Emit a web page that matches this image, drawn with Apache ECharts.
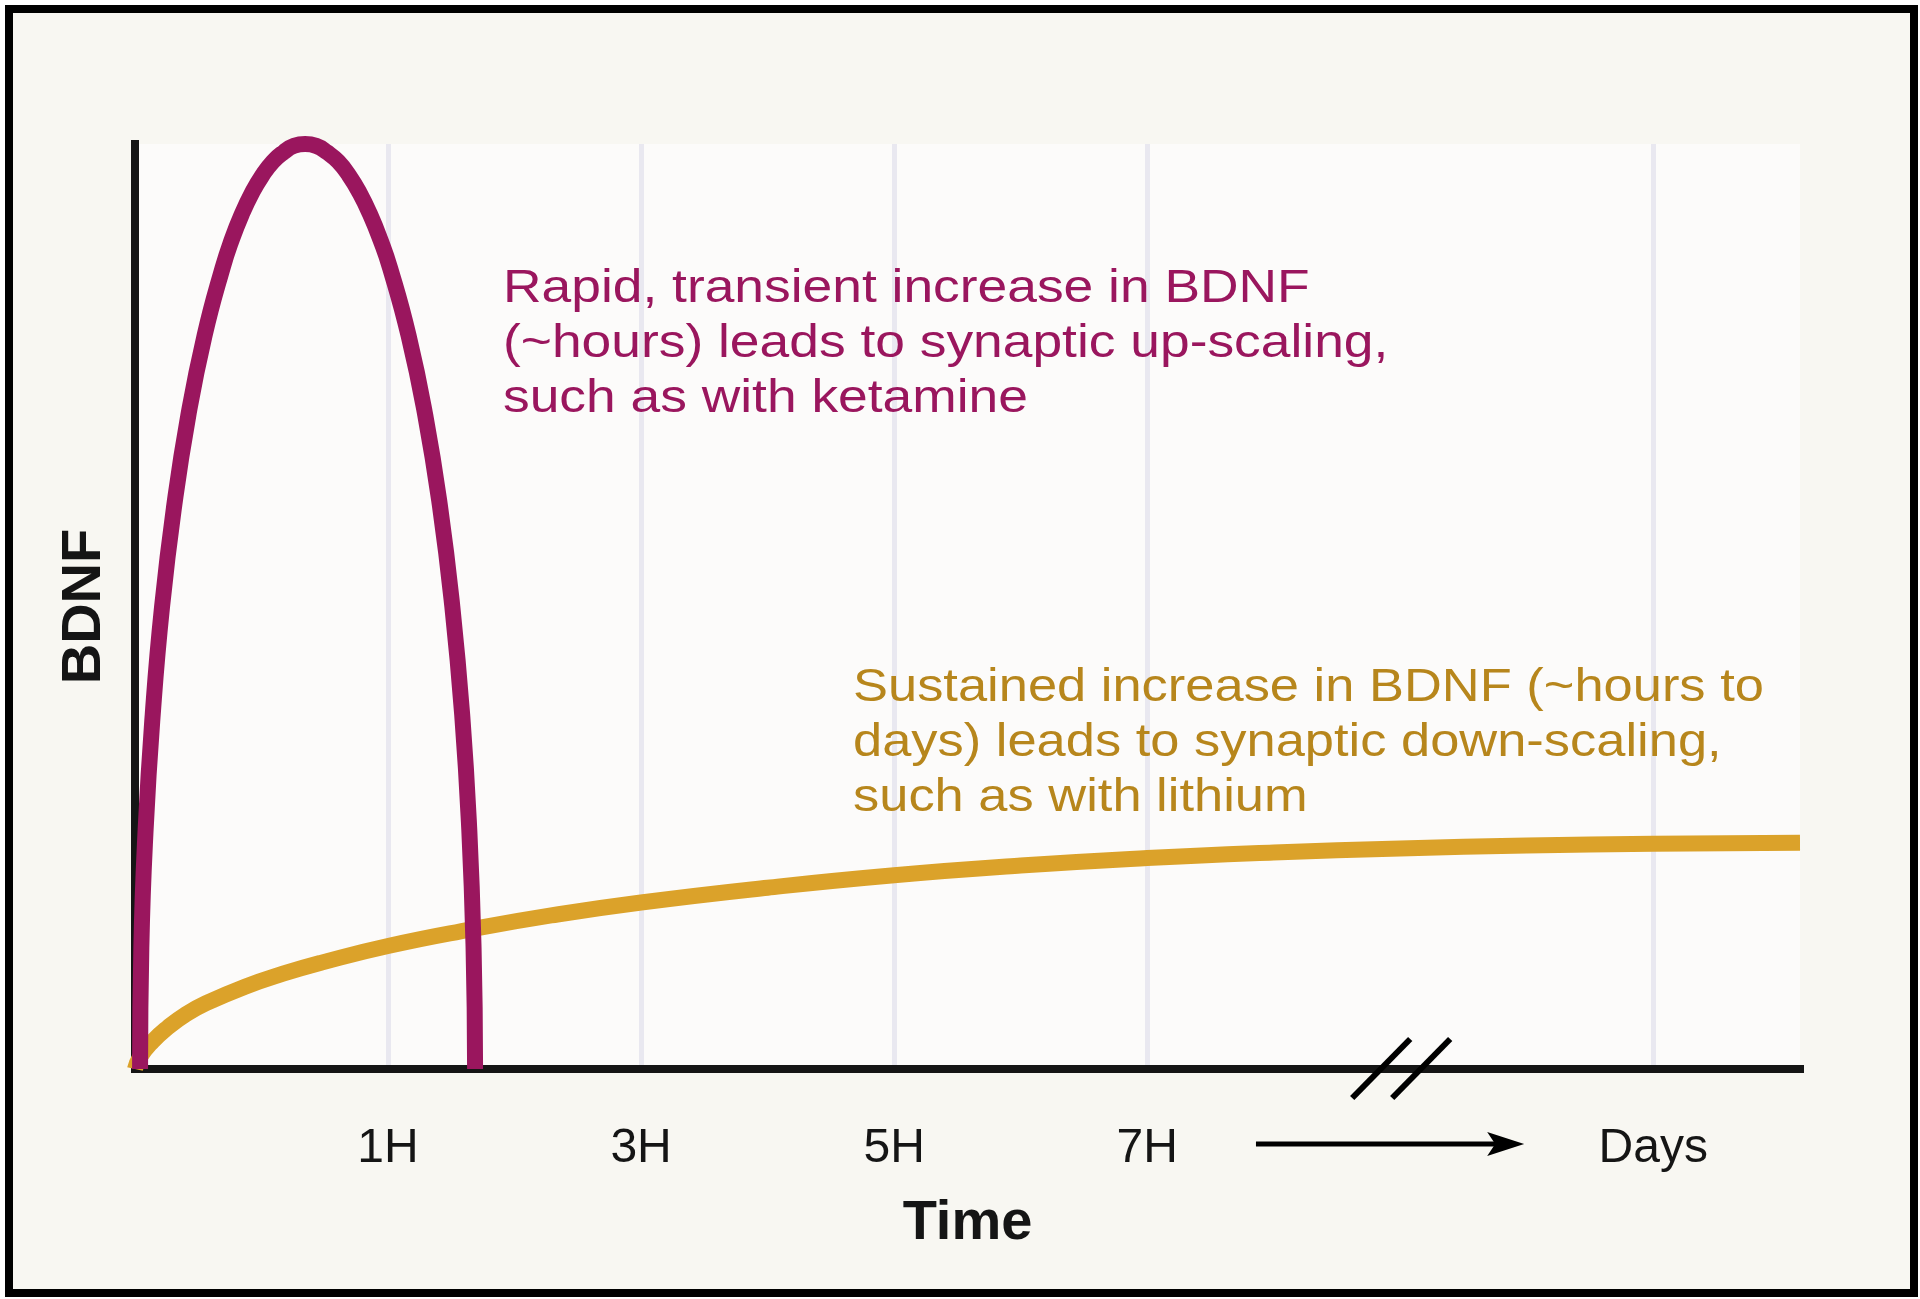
<!DOCTYPE html>
<html>
<head>
<meta charset="utf-8">
<title>BDNF over time</title>
<script src="https://cdn.jsdelivr.net/npm/echarts@6.0.0/dist/echarts.min.js"></script>
<style>
  html, body { margin: 0; padding: 0; background: #fff; }
  #chart { width: 1920px; height: 1299px; }
</style>
</head>
<body>
<div id="chart"></div>
<script>
// x runs in slots: 1 = 1H, 2 = 3H, 3 = 5H, 4 = 7H, 6 = Days (axis is broken before Days)
const tickValues = [1, 2, 3, 4, 6]
const tickLabels = ['1H', '3H', '5H', '7H', 'Days']

// ketamine - rapid, transient
const rapidTime = [0.020, 0.025, 0.042, 0.070, 0.107, 0.155, 0.211, 0.275, 0.346, 0.383, 0.422, 0.462,
  0.503, 0.545, 0.587, 0.629, 0.672, 0.716, 0.759, 0.803, 0.846, 0.888, 0.929, 0.969,
  1.008, 1.081, 1.147, 1.205, 1.254, 1.293, 1.321, 1.338, 1.344]
const rapidBdnf = [0, 13.1, 25.9, 38.3, 50, 60.9, 70.7, 79.3, 86.6, 89.7, 92.4, 94.7,
  96.6, 98.1, 99.1, 99.8, 100, 99.8, 99.1, 98.1, 96.6, 94.7, 92.4, 89.7,
  86.6, 79.3, 70.7, 60.9, 50, 38.3, 25.9, 13.1, 0]

// lithium - sustained
const sustainedTime = [0, 0.02, 0.07, 0.13, 0.2, 0.28, 0.435, 0.585, 0.737, 1.0, 1.33, 1.645,
  2.0, 2.5, 3.0, 3.5, 4.0, 4.5, 5.0, 5.5, 6.0, 6.58]
const sustainedBdnf = [0, 1.3, 3.0, 4.5, 5.9, 7.1, 8.9, 10.3, 11.5, 13.3, 15.1, 16.6,
  18.0, 19.6, 20.95, 22.0, 22.8, 23.4, 23.85, 24.15, 24.35, 24.45]

const rapidNote = [
  'Rapid, transient increase in BDNF',
  '(~hours) leads to synaptic up-scaling,',
  'such as with ketamine'
]
const sustainedNote = [
  'Sustained increase in BDNF (~hours to',
  'days) leads to synaptic down-scaling,',
  'such as with lithium'
]

const purple = '#9A165E'
const gold = '#DBA22A'
const ink = '#151515'
const font = 'Liberation Sans'

const chart = echarts.init(document.getElementById('chart'))

const zip = (xs, ys) => xs.map((x, i) => [x, ys[i]])

const option = {
  backgroundColor: '#F8F7F2',
  animation: false,
  textStyle: { fontFamily: font },
  grid: {
    left: 135,
    right: 120,
    top: 144,
    bottom: 230,
    show: true,
    backgroundColor: '#FCFBFA',
    borderWidth: 0
  },
  xAxis: {
    type: 'value',
    min: 0,
    max: 6.58,
    name: 'Time',
    nameLocation: 'middle',
    nameGap: 127,
    nameTextStyle: { fontSize: 56, fontWeight: 'bold', color: ink, fontFamily: font },
    axisLine: { lineStyle: { color: ink, width: 8, cap: 'square' } },
    axisTick: { show: false, customValues: tickValues },
    axisLabel: {
      customValues: tickValues,
      margin: 56,
      fontSize: 48,
      color: ink,
      formatter: (v) => tickLabels[tickValues.indexOf(v)] || ''
    },
    splitLine: { show: true, lineStyle: { color: '#E9E8F0', width: 5 } }
  },
  yAxis: {
    type: 'value',
    min: 0,
    max: 100,
    name: 'BDNF',
    nameLocation: 'middle',
    nameGap: 22,
    nameTextStyle: { fontSize: 56, fontWeight: 'bold', color: ink, fontFamily: font },
    axisLine: { show: true, lineStyle: { color: ink, width: 8, cap: 'square' } },
    axisTick: { show: false },
    axisLabel: { show: false },
    splitLine: { show: false }
  },
  series: [
    {
      name: 'sustained',
      type: 'line',
      data: zip(sustainedTime, sustainedBdnf),
      smooth: 0.5,
      symbol: 'none',
      clip: false,
      z: 3,
      lineStyle: { color: gold, width: 16 }
    },
    {
      name: 'rapid',
      type: 'line',
      data: zip(rapidTime, rapidBdnf),
      smooth: 0.5,
      symbol: 'none',
      clip: false,
      z: 4,
      lineStyle: { color: purple, width: 16 }
    }
  ]
}

chart.setOption(option)

// decorations: notes, break marks on the axis, arrow towards "Days", frame
const px = (x, y) => chart.convertToPixel({ gridIndex: 0 }, [x, y])
const [arrowX0, axisY] = px(4.43, 0)
const [arrowX1] = px(5.49, 0)
const arrowY = axisY + 75
const breaks = [4.925, 5.083].map(v => px(v, 0)[0])

chart.setOption({
  graphic: [
    {
      type: 'text',
      x: 503,
      y: 262,
      scaleX: 1.16,
      style: { text: rapidNote.join('\n'), fontSize: 46, fontFamily: font, fill: purple, lineHeight: 55, verticalAlign: 'top' },
      z: 10
    },
    {
      type: 'text',
      x: 853,
      y: 661,
      scaleX: 1.14,
      style: { text: sustainedNote.join('\n'), fontSize: 46, fontFamily: font, fill: '#B7861C', lineHeight: 55, verticalAlign: 'top' },
      z: 10
    },
    ...breaks.map(bx => ({
      type: 'line',
      shape: { x1: bx - 29, y1: axisY + 29, x2: bx + 29, y2: axisY - 30 },
      style: { stroke: '#000', lineWidth: 6 },
      z: 10
    })),
    {
      type: 'line',
      shape: { x1: arrowX0, y1: arrowY, x2: arrowX1 - 25, y2: arrowY },
      style: { stroke: '#000', lineWidth: 5 },
      z: 10
    },
    {
      type: 'polygon',
      shape: { points: [[arrowX1, arrowY], [arrowX1 - 37, arrowY - 12], [arrowX1 - 29, arrowY], [arrowX1 - 37, arrowY + 12]] },
      style: { fill: '#000' },
      z: 10
    },
    {
      type: 'rect',
      shape: { x: 0, y: 0, width: 1920, height: 1299 },
      style: { fill: 'none', stroke: '#fff', lineWidth: 10 },
      z: 99
    },
    {
      type: 'rect',
      shape: { x: 9, y: 9, width: 1905, height: 1284 },
      style: { fill: 'none', stroke: '#000', lineWidth: 8 },
      z: 100
    }
  ]
})
</script>
</body>
</html>
